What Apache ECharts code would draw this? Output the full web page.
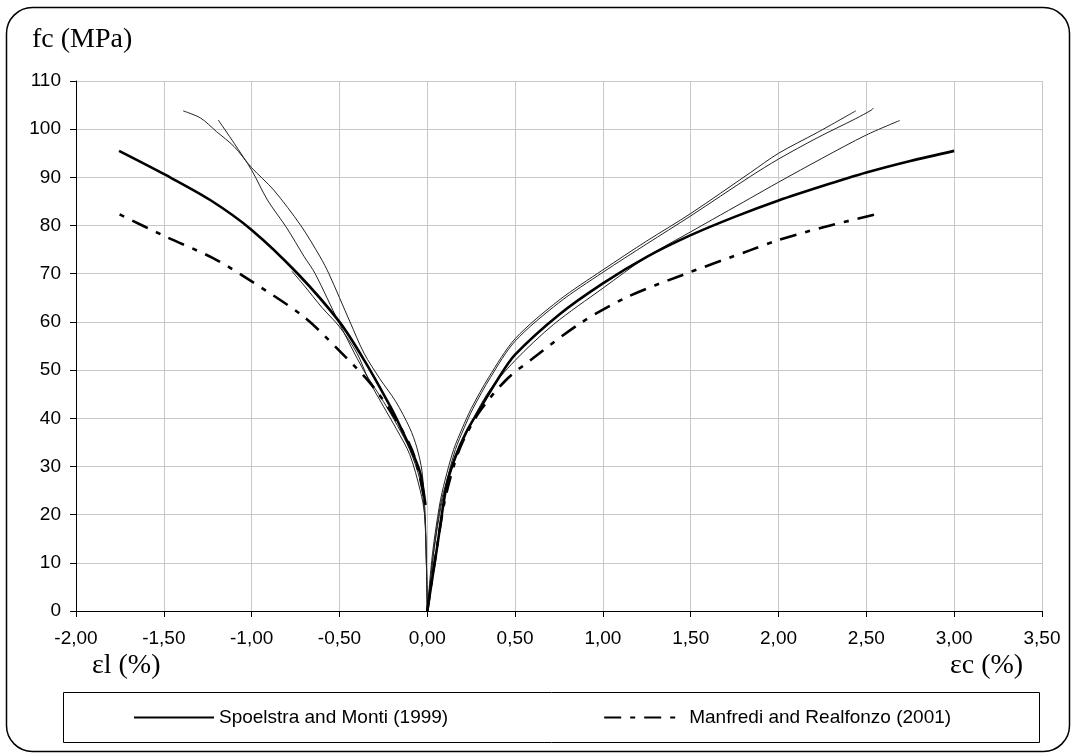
<!DOCTYPE html>
<html>
<head>
<meta charset="utf-8">
<script src="https://cdn.jsdelivr.net/npm/echarts/dist/echarts.min.js"></script>
<style>
  html, body { margin: 0; padding: 0; background: #fff; }
  #chart { width: 1076px; height: 755px; }
</style>
</head>
<body>
<div id="chart"></div>
<script>
// strain (%) / stress (MPa) pairs
const spoelstraRight = [[0, 0], [0.055, 13], [0.11, 26], [0.16, 32], [0.22, 37], [0.3, 42], [0.4, 48], [0.5, 53.2], [0.75, 61.5], [1.0, 68], [1.25, 73.5], [1.5, 78], [1.75, 81.8], [2.0, 85.2], [2.25, 88.2], [2.5, 91], [2.75, 93.4], [3.0, 95.5]]
const spoelstraLeft = [[-0.01, 22], [-0.04, 28.6], [-0.08, 32.5], [-0.154, 38.3], [-0.21, 42.4], [-0.35, 51.5], [-0.5, 60], [-0.74, 70.1], [-1.0, 79.1], [-1.236, 85.3], [-1.49, 90.5], [-1.755, 95.5]]
const manfrediRight = [[0, 0], [0.05, 12], [0.1, 23], [0.15, 30], [0.2, 35], [0.3, 41.5], [0.45, 48], [0.6, 52.4], [0.87, 59.7], [1.14, 65.2], [1.45, 69.7], [1.84, 74.9], [2.0, 77], [2.25, 79.6], [2.55, 82.3]]
const manfrediLeft = [[-0.02, 24], [-0.06, 30.5], [-0.1, 34.5], [-0.2, 41], [-0.325, 47.3], [-0.514, 54.5], [-0.704, 61.1], [-1.0, 68.4], [-1.217, 73.2], [-1.49, 77.7], [-1.767, 82.6]]

// test curves (thin lines, not in legend)
const testRightA = [[0, 0], [0.03, 12], [0.07, 22], [0.1, 27], [0.15, 33.5], [0.2, 38], [0.25, 42], [0.35, 48.5], [0.5, 56.5], [0.75, 64.5], [1.0, 70.8], [1.25, 76.8], [1.5, 82.5], [1.84, 91], [2.0, 95], [2.22, 99.3], [2.44, 103.8]]
const testRightB = [[0, 0], [0.035, 12], [0.075, 22], [0.11, 27], [0.16, 33.5], [0.21, 38], [0.26, 42], [0.36, 48.5], [0.5, 56], [0.75, 64], [1.0, 70.3], [1.25, 76.2], [1.5, 82], [1.84, 90.2], [2.0, 93.8], [2.22, 98.2], [2.44, 102.2], [2.53, 104], [2.54, 104.4]]
const testRightC = [[0, 0], [0.04, 13], [0.08, 22], [0.12, 27.5], [0.2, 35], [0.34, 45], [0.5, 52], [0.72, 59.5], [1.0, 67], [1.25, 73.5], [1.5, 78.7], [1.84, 85.7], [2.0, 89], [2.25, 94], [2.5, 98.8], [2.69, 101.8]]
const testLeftD = [[0, 0], [-0.005, 10], [-0.012, 20], [-0.03, 29], [-0.06, 34], [-0.1, 38], [-0.18, 43.5], [-0.27, 48.2], [-0.36, 53.5], [-0.44, 60], [-0.56, 70], [-0.61, 73.5], [-0.72, 80], [-0.875, 87.4], [-1.0, 92], [-1.1, 96.4], [-1.2, 99.5], [-1.29, 102.3], [-1.39, 103.8]]
const testLeftE = [[0, 0], [-0.005, 10], [-0.015, 20], [-0.04, 27], [-0.1, 33.5], [-0.17, 38.5], [-0.25, 43.5], [-0.363, 50], [-0.505, 60], [-0.638, 70], [-0.7, 73.5], [-0.8, 79.5], [-0.91, 85.3], [-1.0, 91.5], [-1.1, 97.1], [-1.19, 101.9]]
const testLeftF = [[-0.77, 70.5], [-0.7, 67.5], [-0.6, 63], [-0.5, 59], [-0.4, 53.5], [-0.334, 48], [-0.25, 42.5], [-0.173, 37.6], [-0.1, 32.5], [-0.04, 25], [-0.015, 20], [-0.005, 10], [0, 0]]

const legendNames = ['Spoelstra and Monti (1999)', 'Manfredi and Realfonzo (2001)']

const sans = 'Liberation Sans, Arial, sans-serif'
const serif = 'Liberation Serif, Times New Roman, serif'

function modelSeries (name, data, dash) {
  return {
    name: name,
    type: 'line',
    data: data,
    smooth: 0.3,
    symbol: 'none',
    color: '#000',
    lineStyle: { color: '#000', width: 2.6, type: dash },
    z: 3
  }
}

function testSeries (data) {
  return {
    type: 'line',
    data: data,
    smooth: 0.3,
    symbol: 'none',
    silent: true,
    lineStyle: { color: '#222', width: 1 },
    z: 2
  }
}

const chart = echarts.init(document.getElementById('chart'))
chart.setOption({
  animation: false,
  backgroundColor: '#fff',
  grid: { left: 76, right: 34, top: 81, bottom: 144 },
  legend: {
    data: legendNames,
    left: 133,
    top: 708,
    itemWidth: 80,
    itemHeight: 14,
    itemGap: 155,
    padding: 0,
    itemStyle: { opacity: 0 },
    textStyle: { fontFamily: sans, fontSize: 19, color: '#000' }
  },
  xAxis: {
    type: 'value',
    min: -2,
    max: 3.5,
    interval: 0.5,
    axisLine: { onZero: false, lineStyle: { color: '#000', width: 1 } },
    axisTick: { show: true, length: 6, lineStyle: { color: '#000' } },
    axisLabel: {
      margin: 18,
      fontFamily: sans,
      fontSize: 19,
      color: '#000',
      formatter: v => v.toFixed(2).replace('.', ',')
    },
    splitLine: { lineStyle: { color: '#c8c8c8', width: 1 } }
  },
  yAxis: {
    type: 'value',
    min: 0,
    max: 110,
    interval: 10,
    axisLine: { show: true, onZero: false, lineStyle: { color: '#000', width: 1 } },
    axisTick: { show: true, length: 6, lineStyle: { color: '#000' } },
    axisLabel: { margin: 15, fontFamily: sans, fontSize: 19, color: '#000' },
    splitLine: { lineStyle: { color: '#c8c8c8', width: 1 } }
  },
  graphic: [
    {
      type: 'rect',
      shape: { x: 6.5, y: 7.5, width: 1063, height: 744, r: 26 },
      style: { fill: 'none', stroke: '#000', lineWidth: 1.5 },
      silent: true
    },
    {
      type: 'rect',
      shape: { x: 63.5, y: 692.5, width: 976, height: 50 },
      style: { fill: 'none', stroke: '#000', lineWidth: 1 },
      silent: true
    },
    {
      type: 'text',
      left: 32,
      top: 26,
      style: { text: 'fc (MPa)', font: '28px ' + serif, fill: '#000' },
      silent: true
    },
    {
      type: 'text',
      left: 92,
      top: 652,
      style: { text: 'εl (%)', font: '28px ' + serif, fill: '#000' },
      silent: true
    },
    {
      type: 'text',
      left: 950,
      top: 652,
      style: { text: 'εc (%)', font: '28px ' + serif, fill: '#000' },
      silent: true
    }
  ],
  series: [
    testSeries(testRightA),
    testSeries(testRightB),
    testSeries(testRightC),
    testSeries(testLeftD),
    testSeries(testLeftE),
    testSeries(testLeftF),
    modelSeries(legendNames[0], spoelstraRight, 'solid'),
    modelSeries(legendNames[0], spoelstraLeft, 'solid'),
    modelSeries(legendNames[1], manfrediRight, [17, 9, 5, 9]),
    modelSeries(legendNames[1], manfrediLeft, [17, 9, 5, 9])
  ]
})
</script>
</body>
</html>
